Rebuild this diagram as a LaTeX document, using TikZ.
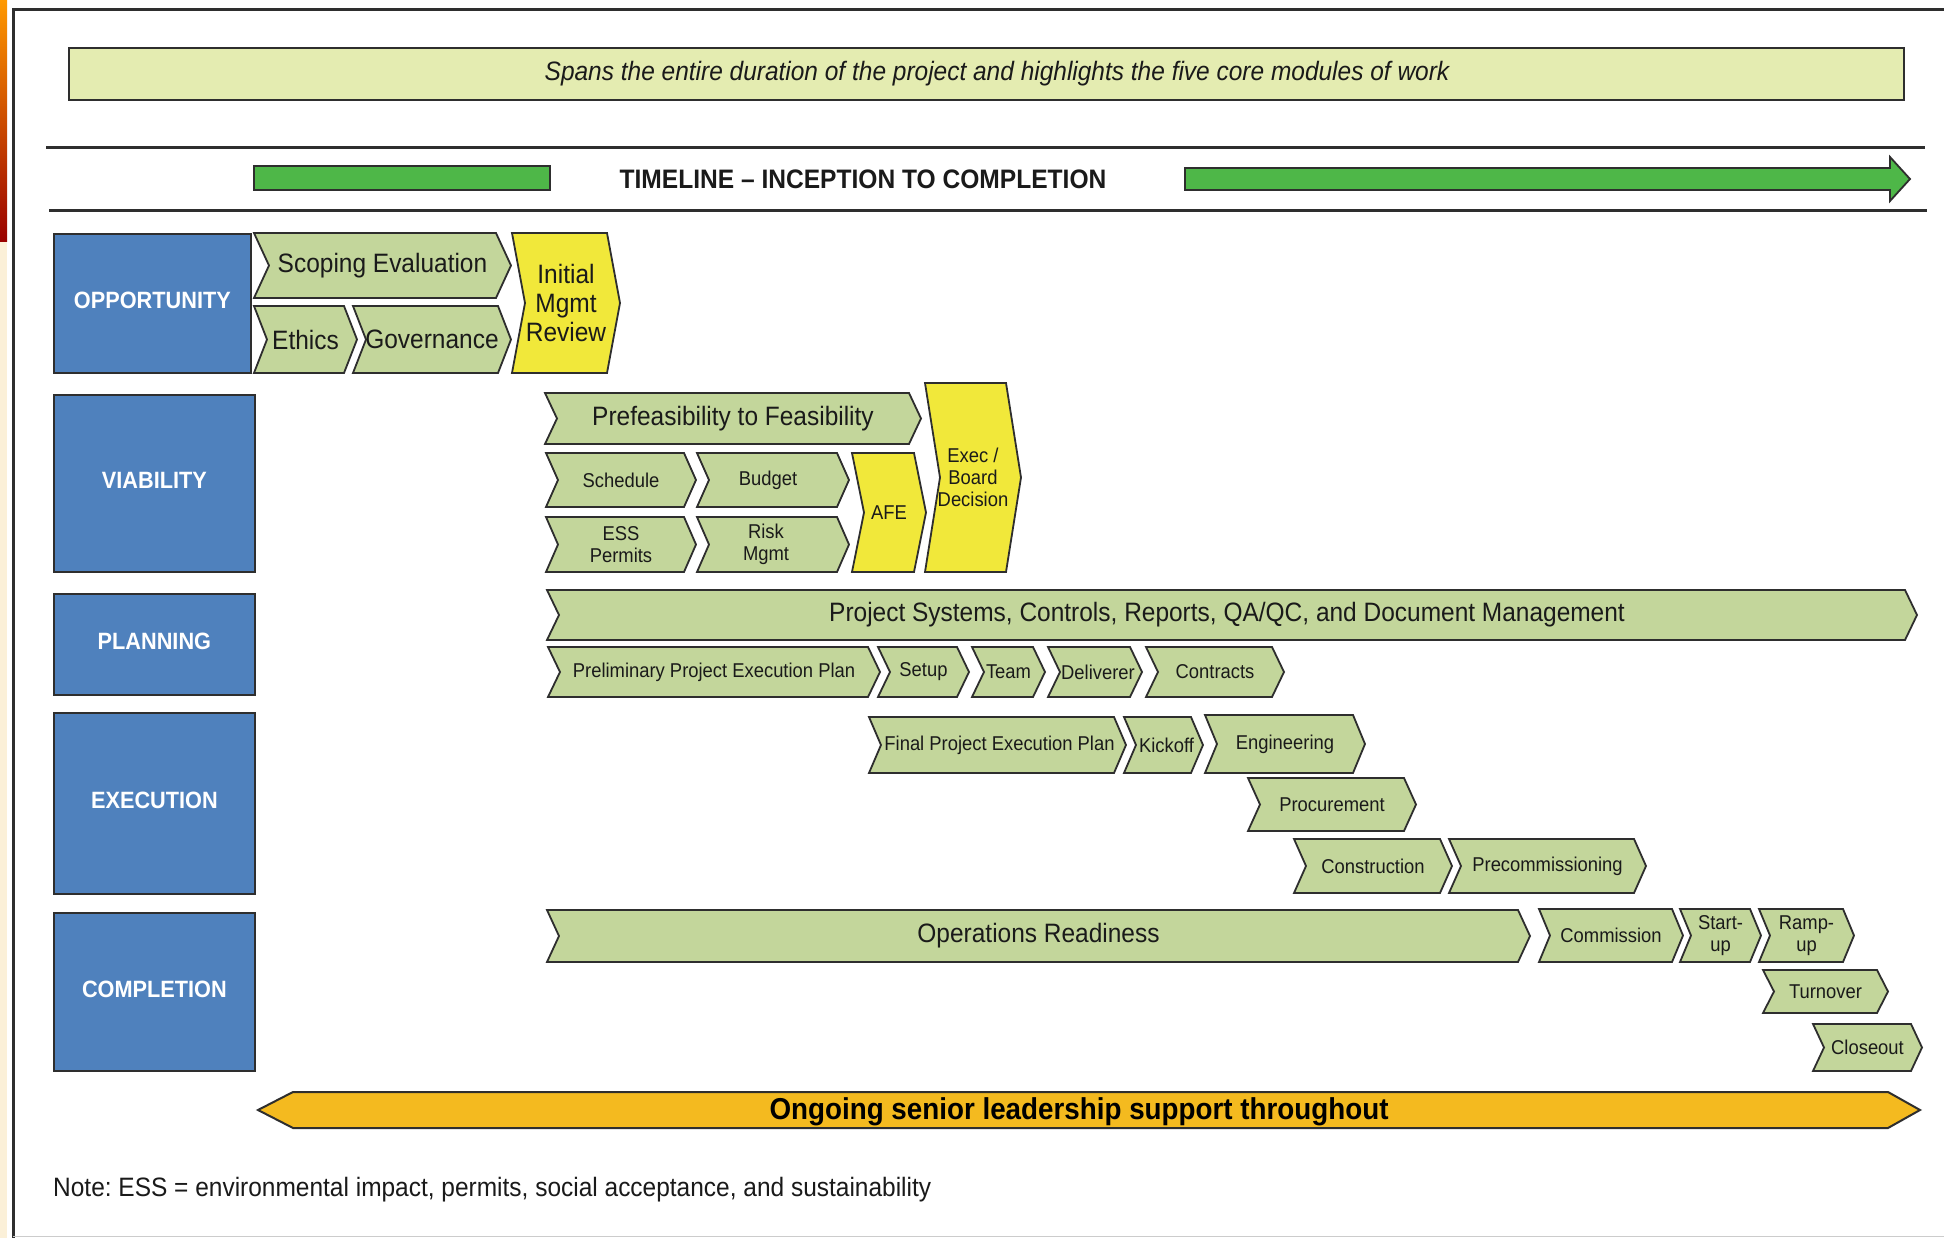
\documentclass[tikz,border=0pt]{standalone}
\usepackage{fontspec}
\setmainfont[FakeStretch=0.92]{Liberation Sans}
\frenchspacing
\definecolor{chevgreen}{HTML}{C3D69B}
\definecolor{chevyellow}{HTML}{F1E83A}
\definecolor{phaseblue}{HTML}{4F81BD}
\definecolor{bargreen}{HTML}{4EB748}
\definecolor{bannerfill}{HTML}{E4ECB1}
\definecolor{leadorange}{HTML}{F4BA1F}
\definecolor{txtdark}{HTML}{1A1A1A}
\definecolor{edge}{HTML}{2E2E2E}
\definecolor{creamstrip}{HTML}{FBF0D8}

\tikzset{
  chevline/.style={draw=edge, line width=1.8pt, line join=miter},
  gfill/.style={fill=chevgreen},
  yfill/.style={fill=chevyellow},
  bigtxt/.style={font=\fontsize{26.6}{29}\selectfont, text=txtdark, align=center, inner sep=0pt},
  smalltxt/.style={font=\fontsize{20}{22}\selectfont, text=txtdark, align=center, inner sep=0pt},
  phase/.style={draw=edge, line width=1.8pt, fill=phaseblue, anchor=north west, inner sep=0pt},
  phasetxt/.style={text=white, font=\bfseries\fontsize{23.6}{28}\selectfont, yshift=3pt},
  ruleline/.style={draw=edge, line width=3pt},
}

% chevron: name, left x, right x, top y, bottom y, notch depth, fill style, text style, text
\newcommand\chev[9]{%
  \draw[chevline,#7] (#2,#4) -- ({#3-#6},#4) -- (#3,{(#4+#5)/2}) -- ({#3-#6},#5)
    -- (#2,#5) -- ({#2+#6},{(#4+#5)/2}) -- cycle;
  \node[#8] (#1) at ({(#2+#3)/2},{(#4+#5)/2}) {#9};
}

\begin{document}
\begin{tikzpicture}[x=1pt,y=-1pt]
\useasboundingbox (0,0) rectangle (1944,1238);
\fill[white] (0,0) rectangle (1944,1238);

% page edge strip and frame
\shade[top color=orange!80!yellow, middle color=red!80!orange, bottom color=red!60!black]
  (0,0) rectangle (7,242);
\fill[creamstrip] (0,242) rectangle (7,1238);
\draw[edge, line width=3pt] (13,1238) -- (13,10) -- (1944,10);
\draw[black!20, line width=1pt] (13,1236) -- (1944,1236);

% banner
\node[draw=edge, line width=2pt, fill=bannerfill, minimum width=1835pt, minimum height=52pt,
      anchor=north west, inner sep=0pt] (banner) at (68,47) {};
\node[font=\itshape\fontsize{26.6}{30}\selectfont, text=txtdark, inner sep=0pt] (bannertxt)
  at (997,74) {Spans the entire duration of the project and highlights the five core modules of work};

% timeline band
\draw[ruleline] (46,148) -- (1925,148);
\draw[ruleline] (49,211) -- (1927,211);
\draw[draw=edge, line width=1.8pt, fill=bargreen] (254,166) rectangle (550,190);
\draw[draw=edge, line width=1.8pt, fill=bargreen, line join=miter]
  (1185,168) -- (1890,168) -- (1890,157) -- (1910,179) -- (1890,201) -- (1890,190) -- (1185,190) -- cycle;
\node[font=\bfseries\fontsize{26.7}{30}\selectfont, text=txtdark, inner sep=0pt] (timeline)
  at (863,179) {TIMELINE -- INCEPTION TO COMPLETION};

% phase boxes
\node[phase, minimum width=197pt, minimum height=139pt] (opp) at (53,233) {};
\node[phasetxt] (opptxt) at (opp.center) {OPPORTUNITY};
\node[phase, minimum width=201pt, minimum height=177pt] (via) at (53,394) {};
\node[phasetxt] (viatxt) at (via.center) {VIABILITY};
\node[phase, minimum width=201pt, minimum height=101pt] (pla) at (53,593) {};
\node[phasetxt] (platxt) at (pla.center) {PLANNING};
\node[phase, minimum width=201pt, minimum height=181pt] (exe) at (53,712) {};
\node[phasetxt] (exetxt) at (exe.center) {EXECUTION};
\node[phase, minimum width=201pt, minimum height=158pt] (com) at (53,912) {};
\node[phasetxt] (comtxt) at (com.center) {COMPLETION};

% opportunity
\chev{scop}{254}{511}{233}{298}{15}{gfill}{bigtxt}{Scoping Evaluation}
\chev{eth}{254}{357}{306}{373}{13}{gfill}{bigtxt}{Ethics}
\chev{gov}{353}{511}{306}{373}{13}{gfill}{bigtxt}{Governance}
\chev{imr}{512}{620}{233}{373}{13}{yfill}{bigtxt}{Initial\\Mgmt\\Review}

% viability
\chev{pref}{545}{921}{393}{444}{12}{gfill}{bigtxt}{Prefeasibility to Feasibility}
\chev{sched}{546}{696}{453}{507}{12}{gfill}{smalltxt}{Schedule}
\chev{budg}{697}{849}{453}{507}{12}{gfill}{smalltxt,xshift=-5pt}{Budget}
\chev{ess}{546}{696}{517}{572}{12}{gfill}{smalltxt}{ESS\\Permits}
\chev{risk}{697}{849}{517}{572}{12}{gfill}{smalltxt,xshift=-7pt}{Risk\\Mgmt}
\chev{afe}{852}{926}{453}{572}{12}{yfill}{smalltxt}{AFE}
\chev{exec}{925}{1021}{383}{572}{15}{yfill}{smalltxt}{Exec /\\Board\\Decision}

% planning
\chev{psys}{547}{1917}{590}{640}{12}{gfill}{bigtxt,xshift=-5pt}{Project Systems, Controls, Reports, QA/QC, and Document Management}
\chev{ppep}{548}{880}{647}{697}{12}{gfill}{smalltxt}{Preliminary Project Execution Plan}
\chev{setup}{878}{969}{647}{697}{12}{gfill}{smalltxt}{Setup}
\chev{team}{972}{1045}{647}{697}{12}{gfill}{smalltxt}{Team}
\chev{deliv}{1048}{1142}{647}{697}{12}{gfill}{smalltxt,xshift=3pt}{Deliverer}
\chev{contr}{1146}{1284}{647}{697}{12}{gfill}{smalltxt}{Contracts}

% execution
\chev{fpep}{869}{1126}{717}{773}{12}{gfill}{smalltxt,xshift=2pt}{Final Project Execution Plan}
\chev{kick}{1124}{1203}{717}{773}{12}{gfill}{smalltxt,xshift=3pt}{Kickoff}
\chev{eng}{1205}{1365}{715}{773}{12}{gfill}{smalltxt}{Engineering}
\chev{proc}{1248}{1416}{778}{831}{12}{gfill}{smalltxt}{Procurement}
\chev{cons}{1294}{1452}{839}{893}{12}{gfill}{smalltxt}{Construction}
\chev{prec}{1449}{1646}{839}{893}{12}{gfill}{smalltxt}{Precommissioning}

% completion
\chev{opsr}{547}{1530}{910}{962}{12}{gfill}{bigtxt}{Operations Readiness}
\chev{comm}{1539}{1683}{909}{962}{11}{gfill}{smalltxt}{Commission}
\chev{start}{1680}{1761}{909}{962}{11}{gfill}{smalltxt}{Start-\\up}
\chev{ramp}{1759}{1854}{909}{962}{11}{gfill}{smalltxt}{Ramp-\\up}
\chev{turn}{1763}{1888}{970}{1013}{11}{gfill}{smalltxt}{Turnover}
\chev{close}{1813}{1922}{1024}{1071}{11}{gfill}{smalltxt}{Closeout}

% leadership support band
\draw[draw=edge, line width=2pt, fill=leadorange, line join=miter]
  (258,1110) -- (293,1092) -- (1888,1092) -- (1920,1110) -- (1888,1128) -- (293,1128) -- cycle;
\node[font=\bfseries\fontsize{30.2}{33}\selectfont, text=black, inner sep=0pt] (lead)
  at (1079,1112) {Ongoing senior leadership support throughout};

% footnote
\node[font=\fontsize{26.6}{30}\selectfont, text=txtdark, anchor=west, inner sep=0pt] (note)
  at (53,1190) {Note: ESS = environmental impact, permits, social acceptance, and sustainability};
\end{tikzpicture}
\end{document}
